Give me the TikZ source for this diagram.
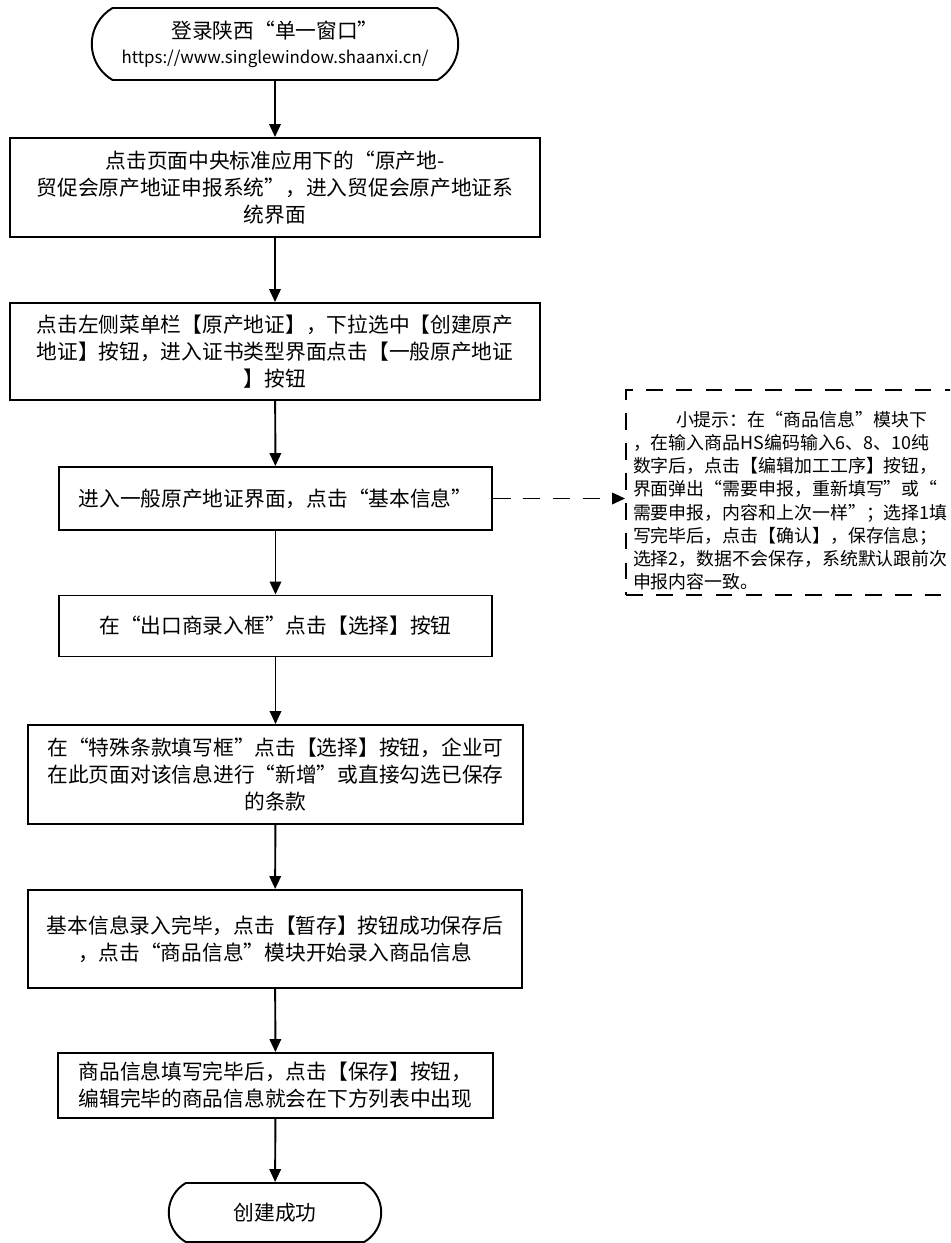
\documentclass[tikz,border=0pt]{standalone}
\usepackage{fontspec}
\setmainfont{Noto Sans CJK SC}
\usepackage{tikz}
\usetikzlibrary{arrows.meta, shapes.misc, positioning}
\tikzset{>={Triangle[length=2.6mm,width=2.3mm]}}
\tikzset{
  stepbox/.style={draw, line width=1.1pt, align=center, inner sep=1pt, font=\fontsize{11.8pt}{15.4pt}\selectfont},
  termbox/.style={stepbox, rounded rectangle, rounded rectangle arc length=120},
  tipbox/.style={draw, dashed, dash pattern=on 9.5pt off 7.5pt, line width=1.1pt, align=left, inner xsep=0.14cm, inner ysep=0pt, font=\fontsize{10.2pt}{13.2pt}\selectfont}
}

\begin{document}
\begin{tikzpicture}[x=0.02cm, y=-0.02cm, line width=1.1pt]
\clip (0,0) rectangle (950,1243);

\node[termbox, minimum width=7.4cm, minimum height=1.44cm] (start) at (275,44)
  {登录陕西“单一窗口”\\[-1pt]{\fontsize{9.6pt}{12pt}\selectfont https://www.singlewindow.shaanxi.cn/}};
\node[stepbox, minimum width=10.6cm, minimum height=1.98cm] (s1) at (275,187.5)
  {点击页面中央标准应用下的“原产地-\\贸促会原产地证申报系统”，进入贸促会原产地证系\\统界面};
\node[stepbox, minimum width=10.6cm, minimum height=1.94cm] (s2) at (275,351.5)
  {点击左侧菜单栏【原产地证】，下拉选中【创建原产\\地证】按钮，进入证书类型界面点击【一般原产地证\\】按钮};
\node[stepbox, minimum width=8.66cm, minimum height=1.26cm] (s3) at (275.5,498.5)
  {进入一般原产地证界面，点击“基本信息”};
\node[stepbox, minimum width=8.66cm, minimum height=1.22cm] (s4) at (275.5,626)
  {在“出口商录入框”点击【选择】按钮};
\node[stepbox, minimum width=9.9cm, minimum height=1.98cm] (s5) at (275.5,774.5)
  {在“特殊条款填写框”点击【选择】按钮，企业可\\在此页面对该信息进行“新增”或直接勾选已保存\\的条款};
\node[stepbox, minimum width=9.88cm, minimum height=1.96cm] (s6) at (275,939)
  {基本信息录入完毕，点击【暂存】按钮成功保存后\\，点击“商品信息”模块开始录入商品信息};
\node[stepbox, minimum width=8.7cm, minimum height=1.3cm] (s7) at (275.5,1085.5)
  {商品信息填写完毕后，点击【保存】按钮，\\编辑完毕的商品信息就会在下方列表中出现};
\node[termbox, minimum width=4.32cm, minimum height=1.18cm] (finish) at (275,1212.5) {创建成功};

\node[tipbox, text width=6.4cm, minimum height=4.1cm] (tip) at (793,492.5)
  {\rule{0pt}{18pt}\hspace*{2.4em}小提示：在“商品信息”模块下\\，在输入商品HS编码输入6、8、10纯\\数字后，点击【编辑加工工序】按钮，\\界面弹出“需要申报，重新填写”或“\\需要申报，内容和上次一样”；选择1填\\写完毕后，点击【确认】，保存信息；\\选择2，数据不会保存，系统默认跟前次\\申报内容一致。};

\foreach \a/\b in {start/s1, s1/s2, s2/s3, s3/s4, s4/s5, s5/s6, s6/s7, s7/finish}
  \draw[->] (\a) -- (\b);
\draw[->, dashed, dash pattern=on 10pt off 7pt] (s3.east) -- (s3.east -| tip.west);

\end{tikzpicture}
\end{document}
